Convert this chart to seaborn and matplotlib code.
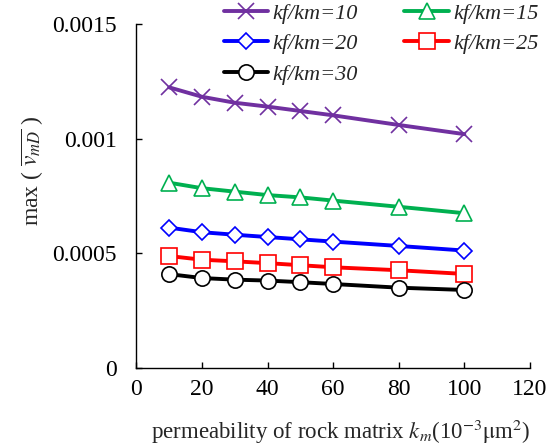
import matplotlib
matplotlib.use("Agg")
import matplotlib.pyplot as plt
import seaborn as sns
import pandas as pd
from matplotlib.ticker import FuncFormatter, MultipleLocator

km = [10, 20, 30, 40, 50, 60, 80, 100]
r10 = [0.001224, 0.001183, 0.001157, 0.001140, 0.001121, 0.001102, 0.001060, 0.001020]
r15 = [0.000808, 0.000784, 0.000769, 0.000754, 0.000744, 0.000730, 0.000703, 0.000675]
r20 = [0.000612, 0.000592, 0.000581, 0.000571, 0.000561, 0.000551, 0.000532, 0.000512]
r25 = [0.000488, 0.000472, 0.000465, 0.000457, 0.000448, 0.000439, 0.000426, 0.000410]
r30 = [0.000409, 0.000392, 0.000385, 0.000381, 0.000374, 0.000366, 0.000350, 0.000340]
labels = ["kf/km=10", "kf/km=15", "kf/km=20", "kf/km=25", "kf/km=30"]

sns.set_theme(style="ticks")
plt.rcParams['font.family'] = ['Liberation Serif', 'DejaVu Serif']
plt.rcParams['mathtext.fontset'] = 'stix'

fig = plt.figure(figsize=(5.48, 4.47), dpi=100)
ax = fig.add_axes([0.249, 0.177, 0.718, 0.769])

series = [
    (labels[0], r10, "#7030A0", "x"),
    (labels[1], r15, "#00B050", "^"),
    (labels[2], r20, "#0000FF", "D"),
    (labels[3], r25, "#FF0000", "s"),
    (labels[4], r30, "#000000", "o"),
]
for lab, vals, col, mk in series:
    df = pd.DataFrame({"x": km, "y": vals})
    ms = {"x": 11, "^": 11, "D": 8, "s": 11, "o": 11}[mk]
    sns.lineplot(data=df, x="x", y="y", ax=ax, color=col, linewidth=2.8,
                 marker=mk, markersize=ms, markerfacecolor="white",
                 markeredgecolor=col, markeredgewidth=1.2, label=lab)

h, l = ax.get_legend_handles_labels()
order = [0, 2, 4, 1, 3]
leg = ax.legend([h[i] for i in order], [l[i] for i in order], ncol=2,
                loc="upper left", bbox_to_anchor=(224 / 548, 0.993),
                bbox_transform=fig.transFigure, frameon=False,
                prop={'family': 'Liberation Serif', 'style': 'italic', 'size': 16},
                handlelength=2.0, handletextpad=0.18, columnspacing=2.1,
                labelspacing=0.45, borderpad=0, borderaxespad=0)

ax.set_xlim(0, 120)
ax.set_ylim(0, 0.0015)
ax.xaxis.set_major_locator(MultipleLocator(20))
ax.yaxis.set_major_locator(MultipleLocator(0.0005))
ax.yaxis.set_major_formatter(FuncFormatter(lambda v, p: "%g" % v))
ax.tick_params(direction="in", labelsize=17, length=4, width=1, colors="black")
ax.tick_params(axis="x", pad=8)
ax.tick_params(axis="y", pad=14)
for s in ["top", "right"]:
    ax.spines[s].set_visible(False)
for s in ["left", "bottom"]:
    ax.spines[s].set_linewidth(1.0)
    ax.spines[s].set_color("black")

ax.set_xlabel(r"permeability of rock matrix $k_m$(10$^{\mathrm{-3}}$$\mathrm{\mu}$m$^{\mathrm{2}}$)", fontsize=16.5)
ax.set_ylabel(r"max ( $\overline{v_{mD}}$ )", fontsize=17)
ax.xaxis.set_label_coords(0.52, -0.145)
ax.yaxis.set_label_coords(-0.232, 0.573)

fig.savefig("out.png", dpi=100)
